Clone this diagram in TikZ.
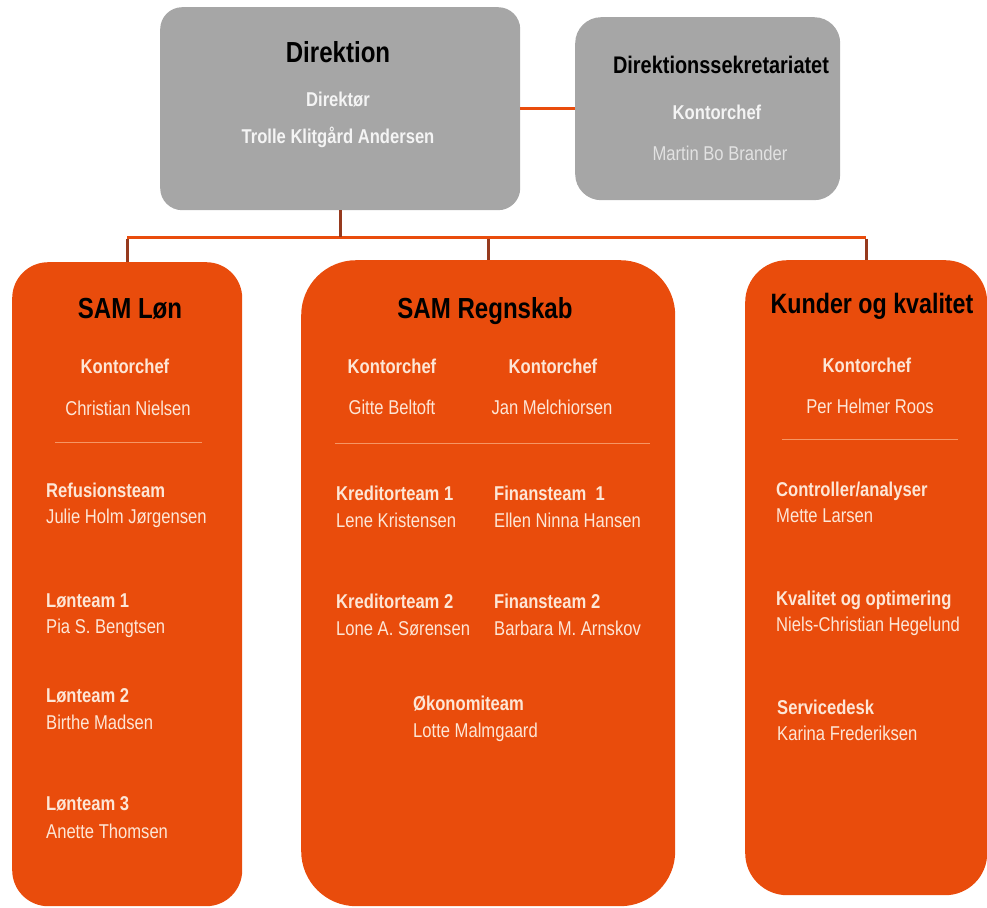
\documentclass[tikz,border=0pt]{standalone}
\usepackage{fontspec}
\setmainfont{Liberation Sans}[FakeStretch=0.83]
\definecolor{orgbox}{RGB}{233,76,12}
\definecolor{graybox}{RGB}{166,166,166}
\definecolor{lighttxt}{RGB}{253,230,214}
\definecolor{graytxt}{RGB}{244,244,244}
\definecolor{graytxtb}{RGB}{226,226,226}
\definecolor{conn}{RGB}{150,58,30}
\definecolor{divline}{RGB}{246,150,100}
\begin{document}
\begin{tikzpicture}[x=1pt,y=-1pt,
  gbox/.style={fill=graybox,draw=none,anchor=north west,inner sep=0pt},
  obox/.style={fill=orgbox,draw=none,anchor=north west,inner sep=0pt},
  ttl/.style={font=\bfseries\fontsize{29}{32}\selectfont,text=black,anchor=base,inner sep=0pt},
  role/.style={font=\bfseries\fontsize{20}{23}\selectfont,text=lighttxt,anchor=base,inner sep=0pt},
  pname/.style={font=\fontsize{20}{23}\selectfont,text=lighttxt,anchor=base,inner sep=0pt},
  team/.style={font=\bfseries\fontsize{20}{23}\selectfont,text=lighttxt,anchor=base west,inner sep=0pt},
  tname/.style={font=\fontsize{20}{23}\selectfont,text=lighttxt,anchor=base west,inner sep=0pt},
  hline/.style={draw=orgbox,line width=3pt},
  vline/.style={draw=conn,line width=2.6pt},
  divider/.style={draw=divline,line width=0.8pt}]
\useasboundingbox (0,0) rectangle (987,907);
% boxes
\node[gbox,rounded corners=22pt,minimum width=360pt,minimum height=203pt] (dir) at (160,7) {};
\node[gbox,rounded corners=26pt,minimum width=265pt,minimum height=183pt] (sek) at (575,17) {};
\node[obox,rounded corners=36pt,minimum width=230pt,minimum height=644pt] (lon) at (12,262) {};
\node[obox,rounded corners=55pt,minimum width=374pt,minimum height=646pt] (reg) at (301,260) {};
\node[obox,rounded corners=42pt,minimum width=242pt,minimum height=635pt] (kk) at (745,260) {};
% connectors
\coordinate (bar) at (0,237);
\draw[hline] (dir.east) -- (dir.east -| sek.west);
\draw[hline] (lon.north |- bar) -- (kk.north |- bar);
\draw[vline] (dir.south) -- (dir.south |- bar);
\draw[vline] (lon.north |- bar) ++(0,1.5) coordinate (lb) (lb) -- (lon.north);
\draw[vline] (reg.north |- bar) ++(0,1.5) coordinate (rb) (rb) -- (reg.north);
\draw[vline] (kk.north |- bar) ++(0,1.5) coordinate (kb) (kb) -- (kk.north);
% Direktion
\node[ttl] (dirt) at (338,63) {Direktion};
\node[role,text=graytxt] (dirr) at (338,106) {Direktør};
\node[role,text=graytxt] (dirn) at (338,143) {Trolle Klitgård Andersen};
% Sekretariat
\node[ttl,font=\bfseries\fontsize{24}{27}\selectfont] (sekt) at (721,74) {Direktionssekretariatet};
\node[role,text=graytxt] (sekr) at (717,119) {Kontorchef};
\node[pname,text=graytxtb] (sekn) at (720,160) {Martin Bo Brander};
% SAM Løn
\node[ttl] (lont) at (130,318) {SAM Løn};
\node[role] (lonr) at (125,373) {Kontorchef};
\node[pname] (lonn) at (128,415) {Christian Nielsen};
\coordinate (lond1) at (55,442); \coordinate (lond2) at (202,442);
\draw[divider] (lond1) -- (lond2);
\node[team] (l1) at (46,497) {Refusionsteam};
\node[tname] (l1n) at (46,523) {Julie Holm Jørgensen};
\node[team] (l2) at (46,607) {Lønteam 1};
\node[tname] (l2n) at (46,633) {Pia S. Bengtsen};
\node[team] (l3) at (46,702) {Lønteam 2};
\node[tname] (l3n) at (46,729) {Birthe Madsen};
\node[team] (l4) at (46,810) {Lønteam 3};
\node[tname] (l4n) at (46,838) {Anette Thomsen};
% SAM Regnskab
\node[ttl] (regt) at (485,318) {SAM Regnskab};
\node[role] (regr1) at (392,373) {Kontorchef};
\node[role] (regr2) at (553,373) {Kontorchef};
\node[pname] (regn1) at (392,414) {Gitte Beltoft};
\node[pname] (regn2) at (552,414) {Jan Melchiorsen};
\coordinate (regd1) at (335,443); \coordinate (regd2) at (650,443);
\draw[divider] (regd1) -- (regd2);
\node[team] (r1) at (336,500) {Kreditorteam 1};
\node[tname] (r1n) at (336,527) {Lene Kristensen};
\node[team] (r2) at (494,500) {Finansteam \ 1};
\node[tname] (r2n) at (494,527) {Ellen Ninna Hansen};
\node[team] (r3) at (336,608) {Kreditorteam 2};
\node[tname] (r3n) at (336,635) {Lone A. Sørensen};
\node[team] (r4) at (494,608) {Finansteam 2};
\node[tname] (r4n) at (494,635) {Barbara M. Arnskov};
\node[team] (r5) at (413,710) {Økonomiteam};
\node[tname] (r5n) at (413,737) {Lotte Malmgaard};
% Kunder og kvalitet
\node[ttl,font=\bfseries\fontsize{28}{31}\selectfont] (kkt) at (872,313) {Kunder og kvalitet};
\node[role] (kkr) at (867,372) {Kontorchef};
\node[pname] (kkn) at (870,413) {Per Helmer Roos};
\coordinate (kkd1) at (782,439); \coordinate (kkd2) at (958,439);
\draw[divider] (kkd1) -- (kkd2);
\node[team] (k1) at (776,496) {Controller/analyser};
\node[tname] (k1n) at (776,522) {Mette Larsen};
\node[team] (k2) at (776,605) {Kvalitet og optimering};
\node[tname] (k2n) at (776,631) {Niels-Christian Hegelund};
\node[team] (k3) at (777,714) {Servicedesk};
\node[tname] (k3n) at (777,740) {Karina Frederiksen};
\end{tikzpicture}
\end{document}
